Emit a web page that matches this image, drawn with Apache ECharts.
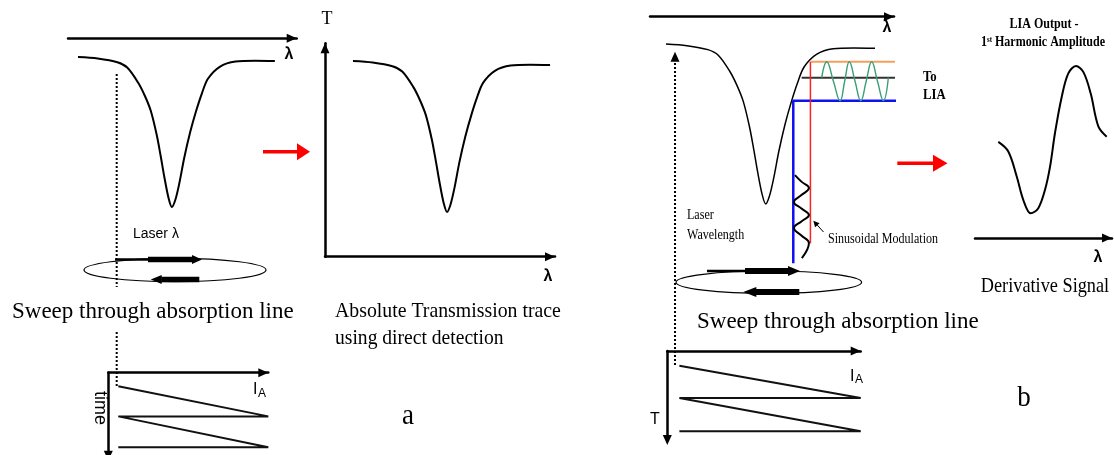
<!DOCTYPE html>
<html>
<head>
<meta charset="utf-8">
<script src="https://cdn.jsdelivr.net/npm/echarts@6/dist/echarts.min.js"></script>
<style>
  html, body { margin: 0; padding: 0; background: #fff; }
  #chart { width: 1114px; height: 455px; }
</style>
</head>
<body>
<div id="chart"></div>
<script>
// Absorption line: wavelength across the line (0-100) vs transmission (1 = baseline, 0 = line centre)
const absorptionLambda = [0, 10, 20, 25, 30.5, 34, 37, 40, 42, 44, 46, 47.7, 49.5, 51.5, 54, 57, 60, 63, 66, 72, 80, 90, 100];
const absorptionT      = [1.0, 0.99, 0.965, 0.93, 0.83, 0.74, 0.64, 0.48, 0.34, 0.19, 0.06, 0.0, 0.05, 0.16, 0.33, 0.5, 0.64, 0.76, 0.855, 0.935, 0.97, 0.975, 0.973];

// Lock-in output: first-harmonic amplitude vs wavelength
const derivLambda = [0, 9.2, 17.0, 23.1, 29.9, 36.9, 43.1, 47.7, 52.3, 58.5, 64.6, 71.7, 78.4, 85.2, 92.3, 100];
const derivSignal = [-0.03, -0.16, -0.50, -0.82, -1.0, -0.93, -0.68, -0.37, 0.09, 0.58, 0.90, 1.0, 0.92, 0.63, 0.18, 0.04];

// Injection-current ramp: current (0-1) vs elapsed time (0-1, running downwards)
const rampCurrent = [0.0625, 1, 0.0625, 1, 0.0625];
const rampTime    = [0.175, 0.56, 0.56, 0.955, 0.955];

// Sinusoidal wavelength modulation on the line flank (wavelength vs time drawn downwards in T units)
const modLambda = [61.7, 64.8, 68.4, 64.8, 61.2, 64.8, 68.4, 64.8, 61.2, 64.8, 68.4, 65.0];
const modT      = [0.181, 0.14, 0.1, 0.056, 0.0125, -0.028, -0.069, -0.109, -0.15, -0.197, -0.244, -0.3375];

// Resulting transmitted-intensity oscillation sent to the lock-in amplifier
const lockInLambda = [74.5, 76.9, 80.1, 83.3, 85.5, 87.7, 90.45, 93.2, 95.8, 98.4, 101.2, 104.0, 106.4];
const lockInT      = [0.79, 0.889, 0.7675, 0.646, 0.7675, 0.889, 0.7675, 0.646, 0.7675, 0.889, 0.7675, 0.646, 0.79];

// Modulation edges (wavelength) and detector levels (high, mean, low)
const modulationEdges = [60.9, 69.1];
const detectorLevels  = [0.889, 0.789, 0.646];
const meanLevelStart  = 64.9;
const levelLineEnd    = 117.6;
const edgeLineBottom  = [-0.371, -0.246];

const SERIF = "'Liberation Serif','Times New Roman',serif";
const SANS = "'Liberation Sans',Arial,sans-serif";

const pairs = (xs, ys) => xs.map((x, i) => [x, ys[i]]);

function hiddenAxis(extra) {
  return Object.assign({ type: 'value', show: false }, extra);
}
// axis line with a solid arrowhead whose tip sits on the end of the line
function arrowAxis(extra, atStart) {
  return Object.assign({
    type: 'value',
    axisLine: {
      show: true, onZero: false,
      symbol: atStart ? ['triangle', 'none'] : ['none', 'triangle'],
      symbolSize: [9, 10],
      symbolOffset: atStart ? [-5, 0] : [0, -5],
      lineStyle: { color: '#000', width: 2.5 }
    },
    axisTick: { show: false }, axisLabel: { show: false }, splitLine: { show: false }
  }, extra);
}
function lineSeries(idx, data, color, width, extra) {
  return Object.assign({
    type: 'line', xAxisIndex: idx, yAxisIndex: idx, data: data,
    symbol: 'none', showSymbol: false, clip: false, silent: true, animation: false,
    lineStyle: { color: color, width: width }
  }, extra);
}

// ---- annotation helpers ----
function txt(str, x, base, size, o) {
  o = o || {};
  const weight = o.weight || 'normal';
  const fam = o.family || SERIF;
  const style = {
    text: str, x: 0, y: 0,
    font: weight + ' ' + size + 'px ' + fam,
    fill: '#000',
    align: o.align || 'left', textAlign: o.align || 'left',
    verticalAlign: 'middle', textVerticalAlign: 'middle'
  };
  if (o.rich) style.rich = o.rich;
  return {
    type: 'text', x: x, y: o.rotation ? base : base - 0.31 * size,
    scaleX: o.sx || 1, rotation: o.rotation || 0,
    style: style, silent: true
  };
}
function seg(x1, y1, x2, y2, style) {
  return { type: 'line', silent: true, shape: { x1: x1, y1: y1, x2: x2, y2: y2 },
           style: Object.assign({ stroke: '#000', lineWidth: 1 }, style) };
}
function arrow(x1, y1, x2, y2, o) {
  const color = o.color || '#000';
  const len = Math.hypot(x2 - x1, y2 - y1), ux = (x2 - x1) / len, uy = (y2 - y1) / len;
  const bx = x2 - ux * o.head, by = y2 - uy * o.head;
  const shaft = { stroke: color, lineWidth: o.width };
  if (o.dash) shaft.lineDash = o.dash;
  return [
    seg(x1, y1, bx + ux * 0.5, by + uy * 0.5, shaft),
    { type: 'polygon', silent: true,
      shape: { points: [[x2, y2], [bx - uy * o.half, by + ux * o.half], [bx + uy * o.half, by - ux * o.half]] },
      style: { fill: color } }
  ];
}
function loop(cx, cy, rx, ry) {
  return { type: 'ellipse', silent: true, shape: { cx: cx, cy: cy, rx: rx, ry: ry },
           style: { fill: 'none', stroke: '#000', lineWidth: 1.2 } };
}

const [edgeLow, edgeHigh] = modulationEdges;
const [levelHigh, levelMean, levelLow] = detectorLevels;

const graphics = [].concat(
  // panel a: laser sweep loop and wavelength marker
  [loop(175, 270, 91, 11.7)],
  [seg(115, 259.5, 148, 259.5, { lineWidth: 2.5 })],
  arrow(148, 259.5, 202, 259.5, { head: 10, half: 4.5, width: 5.5 }),
  arrow(199.3, 279.5, 150.7, 279.5, { head: 11, half: 4.5, width: 5.5 }),
  [seg(116.7, 74, 116.7, 287, { lineWidth: 2, lineDash: [2, 2] }),
   seg(116.7, 332, 116.7, 387, { lineWidth: 2, lineDash: [2, 2] })],
  arrow(263, 151.7, 310, 151.7, { head: 13, half: 8.5, width: 3.5, color: '#ff0000' }),
  // panel b: sweep loop, laser wavelength marker, pointer, output arrow
  [loop(768.8, 282.2, 92.8, 11.2)],
  [seg(707, 271, 745, 271, { lineWidth: 2.5 })],
  arrow(745, 271, 800, 271, { head: 12, half: 5, width: 6 }),
  arrow(799.3, 292, 743.3, 292, { head: 13, half: 5, width: 6 }),
  arrow(675, 365, 675, 51.7, { head: 10, half: 4.5, width: 2, dash: [2, 2] }),
  arrow(823.5, 232, 813.3, 220.7, { head: 6, half: 3, width: 1 }),
  arrow(897.3, 163.3, 947.5, 163.3, { head: 14.5, half: 8.5, width: 3.5, color: '#ff0000' }),
  // texts
  [
    txt('λ', 289, 60, 16, { family: SANS, weight: 'bold', align: 'center' }),
    txt('Laser λ', 133, 238, 14, { family: SANS }),
    txt('Sweep through absorption line', 12, 319, 23),
    txt('T', 327, 25, 18, { align: 'center' }),
    txt('λ', 548, 282, 16, { family: SANS, weight: 'bold', align: 'center' }),
    txt('Absolute Transmission trace', 335, 318, 22, { sx: 0.9 }),
    txt('using direct detection', 335, 345, 22, { sx: 0.89 }),
    txt('a', 408, 425, 30, { align: 'center', sx: 0.9 }),
    txt('time', 100, 408, 18, { family: SANS, align: 'center', rotation: -Math.PI / 2 }),
    txt('I', 253, 395, 16, { family: SANS }),
    txt('A', 258, 397, 12, { family: SANS }),
    txt('λ', 887, 33, 16, { family: SANS, weight: 'bold', align: 'center' }),
    txt('To', 923, 82, 15, { weight: 'bold', sx: 0.85 }),
    txt('LIA', 923, 100, 15, { weight: 'bold', sx: 0.85 }),
    txt('Laser', 687, 220, 14, { sx: 0.86 }),
    txt('Wavelength', 687, 239.5, 14, { sx: 0.86 }),
    txt('Sinusoidal Modulation', 828, 244, 14, { sx: 0.86 }),
    txt('Sweep through absorption line', 697, 329, 23),
    txt('I', 850, 382, 16, { family: SANS }),
    txt('A', 855, 383, 12, { family: SANS }),
    txt('T', 650, 425, 16, { family: SANS }),
    txt('LIA Output -', 1044, 28.5, 14, { weight: 'bold', align: 'center', sx: 0.86 }),
    txt('{n|1}{s|st}{n| Harmonic Amplitude}', 1043, 47, 14, {
      weight: 'bold', align: 'center', sx: 0.86,
      rich: {
        n: { font: 'bold 14px ' + SERIF },
        s: { font: 'bold 8px ' + SERIF, verticalAlign: 'top' }
      }
    }),
    txt('λ', 1098, 263, 16, { family: SANS, weight: 'bold', align: 'center' }),
    txt('Derivative Signal', 1045, 293, 21, { align: 'center', sx: 0.87 }),
    txt('b', 1024, 407, 30, { align: 'center', sx: 0.9 })
  ]
);

const absorption = pairs(absorptionLambda, absorptionT);
// time runs down the page: plot it against a negated value axis so the arrow sits at the bottom
const ramp = pairs(rampCurrent, rampTime.map(t => -t));

const option = {
  backgroundColor: '#fff',
  animation: false,
  grid: [
    { left: 68, top: 38.3, width: 228.7, height: 168.7, containLabel: false, outerBoundsMode: 'none' },
    { left: 325, top: 43.3, width: 230, height: 213.4, containLabel: false, outerBoundsMode: 'none' },
    { left: 650, top: 16.7, width: 244, height: 283.3, containLabel: false, outerBoundsMode: 'none' },
    { left: 975, top: 66, width: 137, height: 172, containLabel: false, outerBoundsMode: 'none' },
    { left: 108.3, top: 372.7, width: 160, height: 78, containLabel: false, outerBoundsMode: 'none' },
    { left: 667.3, top: 351, width: 193.4, height: 84, containLabel: false, outerBoundsMode: 'none' }
  ],
  xAxis: [
    arrowAxis({ gridIndex: 0, position: 'top', min: -5.08, max: 111.1 }),
    arrowAxis({ gridIndex: 1, position: 'bottom', min: -14.2, max: 102.5 }),
    arrowAxis({ gridIndex: 2, position: 'top', min: -7.66, max: 109.1 }),
    arrowAxis({ gridIndex: 3, position: 'bottom', min: -21.5, max: 104.9 }),
    arrowAxis({ gridIndex: 4, position: 'top', min: 0, max: 1 }),
    arrowAxis({ gridIndex: 5, position: 'top', min: 0, max: 1 })
  ],
  yAxis: [
    hiddenAxis({ gridIndex: 0, min: 0, max: 1.125 }),
    arrowAxis({ gridIndex: 1, position: 'left', min: -0.296, max: 1.117 }),
    hiddenAxis({ gridIndex: 2, min: -0.6, max: 1.171 }),
    hiddenAxis({ gridIndex: 3, min: -1.335, max: 1.0 }),
    arrowAxis({ gridIndex: 4, position: 'left', min: -1, max: 0 }, true),
    arrowAxis({ gridIndex: 5, position: 'left', min: -1, max: 0 }, true)
  ],
  series: [
    lineSeries(0, absorption, '#000', 2, { smooth: 0.3 }),
    lineSeries(1, absorption, '#000', 2, { smooth: 0.3 }),
    lineSeries(2, absorption, '#000', 1.5, { smooth: 0.3 }),
    // detector levels and modulation edges on the line flank
    lineSeries(2, [[edgeHigh, levelHigh], [levelLineEnd, levelHigh]], '#f4a060', 2),
    lineSeries(2, [[meanLevelStart, levelMean], [levelLineEnd, levelMean]], '#333', 2),
    lineSeries(2, [[edgeLow, edgeLineBottom[0]], [edgeLow, levelLow], [levelLineEnd, levelLow]], '#1010f0', 2.5),
    lineSeries(2, [[edgeHigh, levelHigh], [edgeHigh, edgeLineBottom[1]]], '#ff2020', 1.5),
    lineSeries(2, pairs(lockInLambda, lockInT), '#3a9e76', 1.4, { smooth: 0.45 }),
    lineSeries(2, pairs(modLambda, modT), '#000', 2, { smooth: 0.45 }),
    lineSeries(3, pairs(derivLambda, derivSignal), '#000', 2, { smooth: 0.35 }),
    lineSeries(4, ramp, '#111', 2),
    lineSeries(5, ramp, '#111', 2)
  ],
  graphic: { elements: graphics }
};

const chart = echarts.init(document.getElementById('chart'), null, { renderer: 'canvas' });
chart.setOption(option);
</script>
</body>
</html>
